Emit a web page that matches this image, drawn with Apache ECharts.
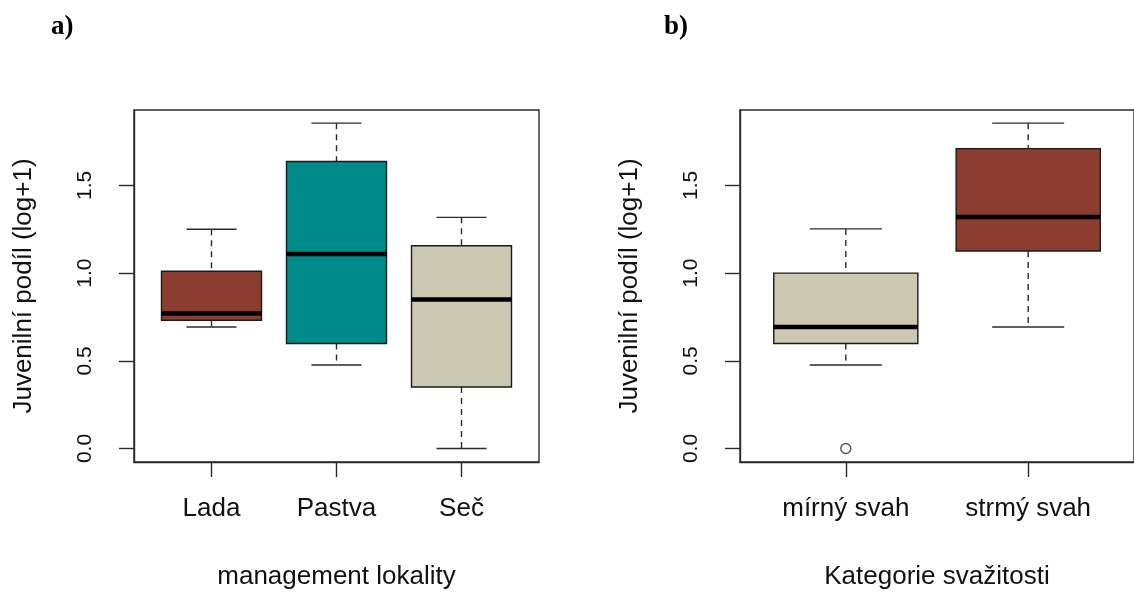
<!DOCTYPE html>
<html>
<head>
<meta charset="utf-8">
<script src="https://cdn.jsdelivr.net/npm/echarts@6/dist/echarts.min.js"></script>
<style>
html,body{margin:0;padding:0;background:#fff;}
#chart{width:1134px;height:595px;}
</style>
</head>
<body>
<div id="chart"></div>
<script>
// ---- data ----
const categoriesA = ['Lada', 'Pastva', 'Seč'];
// [lower whisker, Q1, median, Q3, upper whisker]
const boxesA = [
  [0.693, 0.731, 0.769, 1.011, 1.250],
  [0.476, 0.599, 1.109, 1.636, 1.855],
  [0.000, 0.351, 0.850, 1.156, 1.318]
];
const categoriesB = ['mírný svah', 'strmý svah'];
const boxesB = [
  [0.476, 0.599, 0.693, 1.000, 1.252],
  [0.693, 1.126, 1.320, 1.710, 1.855]
];
// outliers: [category position, value]
const outliersB = [[1, 0.0]];
const yTicks = [0, 0.5, 1.0, 1.5];
const yTitle = 'Juvenilní podíl (log+1)';
const xTitleA = 'management lokality';
const xTitleB = 'Kategorie svažitosti';
const panelLabels = ['a)', 'b)'];

// ---- styles ----
const fillA = ['#8B3E2F', '#008B8B', '#CDC8B1'];
const fillB = ['#CDC8B1', '#8B3E2F'];
const FONT = '"Liberation Sans", Arial, sans-serif';
const INK = '#2a2a2a';

function makeRender(fills, halfW) {
  return function (params, api) {
    const x = api.value(0), lo = api.value(1), q1 = api.value(2),
          md = api.value(3), q3 = api.value(4), hi = api.value(5);
    const tl = api.coord([x - halfW, q3]);
    const br = api.coord([x + halfW, q1]);
    const cHi = api.coord([x, hi]), cLo = api.coord([x, lo]);
    const cQ3 = api.coord([x, q3]), cQ1 = api.coord([x, q1]);
    const mL = api.coord([x - halfW, md]), mR = api.coord([x + halfW, md]);
    const capL = api.coord([x - halfW / 2, hi])[0], capR = api.coord([x + halfW / 2, hi])[0];
    const dash = {stroke: INK, lineWidth: 1.4, lineDash: [6, 5]};
    const solid = {stroke: INK, lineWidth: 1.4};
    return {
      type: 'group',
      children: [
        {type: 'line', shape: {x1: cHi[0], y1: cHi[1], x2: cQ3[0], y2: cQ3[1]}, style: dash},
        {type: 'line', shape: {x1: cQ1[0], y1: cQ1[1], x2: cLo[0], y2: cLo[1]}, style: dash},
        {type: 'line', shape: {x1: capL, y1: cHi[1], x2: capR, y2: cHi[1]}, style: solid},
        {type: 'line', shape: {x1: capL, y1: cLo[1], x2: capR, y2: cLo[1]}, style: solid},
        {type: 'rect', shape: {x: tl[0], y: tl[1], width: br[0] - tl[0], height: br[1] - tl[1]},
          style: {fill: fills[params.dataIndex], stroke: '#1a1a1a', lineWidth: 1.4}},
        {type: 'line', shape: {x1: mL[0], y1: mL[1], x2: mR[0], y2: mR[1]},
          style: {stroke: '#000', lineWidth: 4.5}}
      ]
    };
  };
}

function yAxisCfg(idx) {
  return {
    gridIndex: idx, type: 'value', min: -0.077, max: 1.93,
    name: yTitle, nameLocation: 'middle', nameRotate: 90, nameGap: 97,
    nameTextStyle: {fontFamily: FONT, fontSize: 26, color: '#111'},
    axisLine: {show: true, onZero: false, lineStyle: {color: INK, width: 1.4}},
    axisTick: {show: true, length: 15, customValues: yTicks, lineStyle: {color: INK, width: 1.4}},
    axisLabel: {customValues: yTicks, rotate: 90, margin: 38, fontFamily: FONT, fontSize: 21, color: '#111',
      formatter: v => Number(v).toFixed(1)},
    splitLine: {show: false}
  };
}
function xAxisCfg(idx, cats, min, max, title) {
  const ticks = cats.map((c, i) => i + 1);
  return {
    gridIndex: idx, type: 'value', min: min, max: max,
    name: title, nameLocation: 'middle', nameGap: 102,
    nameTextStyle: {fontFamily: FONT, fontSize: 26, color: '#111'},
    axisLine: {show: true, onZero: false, lineStyle: {color: INK, width: 1.4}},
    axisTick: {show: true, length: 15, customValues: ticks, lineStyle: {color: INK, width: 1.4}},
    axisLabel: {customValues: ticks, margin: 34, fontFamily: FONT, fontSize: 26, color: '#111',
      formatter: v => cats[Math.round(v) - 1] || ''},
    splitLine: {show: false}
  };
}

const chart = echarts.init(document.getElementById('chart'), null, {renderer: 'canvas'});
chart.setOption({
  backgroundColor: '#fff',
  animation: false,
  title: [
    {text: panelLabels[0], left: 46, top: 9, textStyle: {fontFamily: '"Liberation Serif", "Times New Roman", serif', fontWeight: 'bold', fontSize: 27, color: '#000'}},
    {text: panelLabels[1], left: 659, top: 9, textStyle: {fontFamily: '"Liberation Serif", "Times New Roman", serif', fontWeight: 'bold', fontSize: 27, color: '#000'}}
  ],
  grid: [
    {left: 134, top: 110, width: 405, height: 355, show: true, borderColor: INK, borderWidth: 1.4, backgroundColor: 'transparent'},
    {left: 740, top: 110, width: 405, height: 355, show: true, borderColor: INK, borderWidth: 1.4, backgroundColor: 'transparent'}
  ],
  xAxis: [
    xAxisCfg(0, categoriesA, 0.38, 3.62, xTitleA),
    xAxisCfg(1, categoriesB, 0.42, 2.58, xTitleB)
  ],
  yAxis: [yAxisCfg(0), yAxisCfg(1)],
  series: [
    {type: 'custom', xAxisIndex: 0, yAxisIndex: 0, renderItem: makeRender(fillA, 0.4),
      data: boxesA.map((b, i) => [i + 1].concat(b)), encode: {x: 0, y: [1, 2, 3, 4, 5]}},
    {type: 'custom', xAxisIndex: 1, yAxisIndex: 1, renderItem: makeRender(fillB, 0.395),
      data: boxesB.map((b, i) => [i + 1].concat(b)), encode: {x: 0, y: [1, 2, 3, 4, 5]}},
    {type: 'scatter', xAxisIndex: 1, yAxisIndex: 1, data: outliersB, symbol: 'circle', symbolSize: 10,
      itemStyle: {color: '#fff', borderColor: INK, borderWidth: 1.4}}
  ]
});
</script>
</body>
</html>
